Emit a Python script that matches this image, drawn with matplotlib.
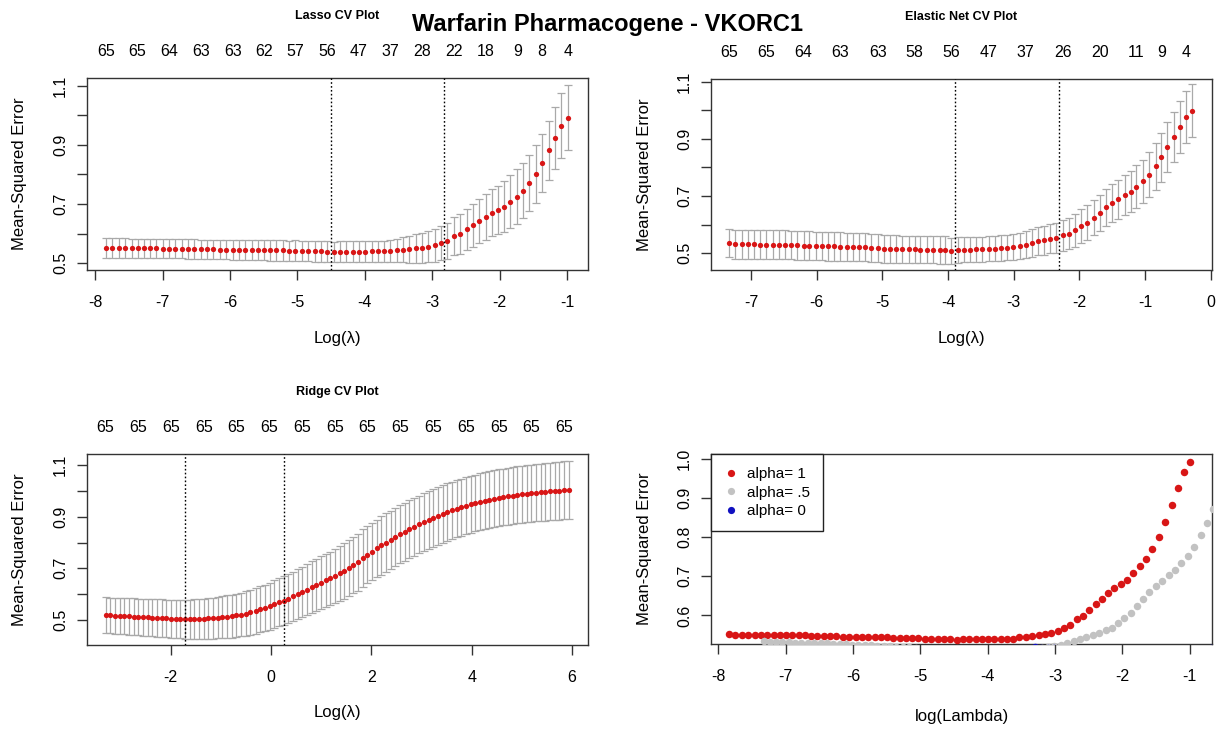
import matplotlib
matplotlib.use("Agg")
import matplotlib.pyplot as plt
from matplotlib.lines import Line2D

plt.rcParams["font.family"] = ["Liberation Sans", "DejaVu Sans"]
plt.rcParams["axes.unicode_minus"] = False

# ----------------------------------
# data (log lambda, cv mse, cv se)
# ----------------------------------

lasso_x = [-7.84, -7.75, -7.65, -7.56, -7.46, -7.37, -7.28, -7.18, -7.09, -7.00,
           -6.90, -6.81, -6.71, -6.62, -6.53, -6.43, -6.34, -6.25, -6.15, -6.06,
           -5.96, -5.87, -5.78, -5.68, -5.59, -5.50, -5.40, -5.31, -5.21, -5.12,
           -5.03, -4.93, -4.84, -4.74, -4.65, -4.56, -4.46, -4.37, -4.28, -4.18,
           -4.09, -3.99, -3.90, -3.81, -3.71, -3.62, -3.53, -3.43, -3.34, -3.24,
           -3.15, -3.06, -2.96, -2.87, -2.78, -2.68, -2.59, -2.49, -2.40, -2.31,
           -2.21, -2.12, -2.02, -1.93, -1.84, -1.74, -1.65, -1.56, -1.46, -1.37,
           -1.27, -1.18, -1.09, -0.99]
lasso_mse = [0.552, 0.551, 0.551, 0.551, 0.550, 0.550, 0.550, 0.550, 0.550, 0.549,
             0.549, 0.549, 0.549, 0.548, 0.548, 0.547, 0.547, 0.547, 0.546, 0.546,
             0.545, 0.545, 0.544, 0.544, 0.544, 0.544, 0.543, 0.543, 0.543, 0.542,
             0.542, 0.541, 0.541, 0.540, 0.540, 0.539, 0.538, 0.539, 0.539, 0.539,
             0.539, 0.539, 0.540, 0.540, 0.540, 0.541, 0.544, 0.546, 0.547, 0.550,
             0.552, 0.556, 0.561, 0.569, 0.576, 0.592, 0.598, 0.614, 0.628, 0.643,
             0.657, 0.671, 0.680, 0.691, 0.708, 0.725, 0.745, 0.770, 0.801, 0.838,
             0.881, 0.924, 0.965, 0.992]
lasso_se = [0.033, 0.033, 0.033, 0.033, 0.033, 0.033, 0.033, 0.033, 0.033, 0.033,
            0.033, 0.033, 0.033, 0.033, 0.033, 0.033, 0.033, 0.033, 0.033, 0.033,
            0.034, 0.034, 0.034, 0.034, 0.034, 0.034, 0.034, 0.034, 0.034, 0.034,
            0.035, 0.035, 0.035, 0.035, 0.035, 0.035, 0.035, 0.035, 0.035, 0.035,
            0.036, 0.036, 0.036, 0.036, 0.036, 0.036, 0.039, 0.042, 0.045, 0.048,
            0.050, 0.053, 0.056, 0.058, 0.061, 0.064, 0.067, 0.070, 0.073, 0.075,
            0.077, 0.080, 0.082, 0.086, 0.090, 0.092, 0.093, 0.095, 0.097, 0.099,
            0.101, 0.105, 0.109, 0.110]
lasso_lines = [-4.50, -2.82]
lasso_nz_x = [-7.84, -7.37, -6.90, -6.43, -5.96, -5.50, -5.03, -4.56,
              -4.09, -3.62, -3.15, -2.68, -2.21, -1.74, -1.37, -0.99]
lasso_nz = ["65", "65", "64", "63", "63", "62", "57", "56",
            "47", "37", "28", "22", "18", "9", "8", "4"]

enet_x = [-7.33, -7.24, -7.14, -7.05, -6.95, -6.86, -6.77, -6.67, -6.58, -6.48,
          -6.39, -6.30, -6.20, -6.11, -6.01, -5.92, -5.83, -5.73, -5.64, -5.54,
          -5.45, -5.36, -5.26, -5.17, -5.07, -4.98, -4.89, -4.79, -4.70, -4.60,
          -4.51, -4.42, -4.32, -4.23, -4.13, -4.04, -3.95, -3.85, -3.76, -3.66,
          -3.57, -3.48, -3.38, -3.29, -3.19, -3.10, -3.01, -2.91, -2.82, -2.72,
          -2.63, -2.54, -2.44, -2.35, -2.25, -2.16, -2.07, -1.97, -1.88, -1.78,
          -1.69, -1.60, -1.50, -1.41, -1.31, -1.22, -1.13, -1.03, -0.94, -0.84,
          -0.75, -0.66, -0.56, -0.47, -0.37, -0.28]
enet_mse = [0.535, 0.531, 0.531, 0.531, 0.531, 0.530, 0.530, 0.530, 0.530, 0.530,
            0.529, 0.527, 0.526, 0.526, 0.525, 0.525, 0.524, 0.524, 0.523, 0.522,
            0.521, 0.520, 0.520, 0.519, 0.518, 0.515, 0.514, 0.514, 0.513, 0.513,
            0.513, 0.512, 0.512, 0.512, 0.511, 0.511, 0.507, 0.511, 0.512, 0.512,
            0.513, 0.514, 0.515, 0.516, 0.518, 0.519, 0.522, 0.525, 0.530, 0.535,
            0.541, 0.545, 0.551, 0.554, 0.562, 0.568, 0.580, 0.594, 0.606, 0.624,
            0.641, 0.660, 0.676, 0.688, 0.704, 0.715, 0.733, 0.751, 0.774, 0.804,
            0.835, 0.871, 0.906, 0.941, 0.976, 0.998]
enet_se = [0.050, 0.050, 0.050, 0.050, 0.050, 0.050, 0.050, 0.050, 0.050, 0.050,
           0.050, 0.050, 0.050, 0.050, 0.050, 0.050, 0.050, 0.050, 0.050, 0.050,
           0.049, 0.049, 0.049, 0.049, 0.049, 0.049, 0.049, 0.049, 0.048, 0.048,
           0.048, 0.048, 0.048, 0.048, 0.048, 0.048, 0.046, 0.044, 0.044, 0.044,
           0.044, 0.044, 0.044, 0.044, 0.044, 0.044, 0.045, 0.046, 0.047, 0.048,
           0.049, 0.050, 0.051, 0.052, 0.053, 0.055, 0.057, 0.059, 0.061, 0.062,
           0.064, 0.065, 0.067, 0.068, 0.070, 0.072, 0.074, 0.076, 0.079, 0.082,
           0.085, 0.087, 0.089, 0.091, 0.092, 0.092]
enet_lines = [-3.89, -2.31]
enet_nz_x = [-7.33, -6.77, -6.20, -5.64, -5.07, -4.51, -3.95,
             -3.38, -2.82, -2.25, -1.69, -1.13, -0.75, -0.37]
enet_nz = ["65", "65", "64", "63", "63", "58", "56",
           "47", "37", "26", "20", "11", "9", "4"]

ridge_x = [-3.30, -3.21, -3.11, -3.02, -2.93, -2.83, -2.74, -2.65, -2.55, -2.46,
           -2.37, -2.27, -2.18, -2.09, -1.99, -1.90, -1.81, -1.71, -1.62, -1.53,
           -1.43, -1.34, -1.25, -1.15, -1.06, -0.97, -0.87, -0.78, -0.69, -0.59,
           -0.50, -0.41, -0.31, -0.22, -0.13, -0.03, 0.06, 0.15, 0.25, 0.34,
           0.43, 0.53, 0.62, 0.71, 0.81, 0.90, 0.99, 1.09, 1.18, 1.27,
           1.37, 1.46, 1.55, 1.64, 1.74, 1.83, 1.92, 2.02, 2.11, 2.20,
           2.30, 2.39, 2.48, 2.58, 2.67, 2.76, 2.86, 2.95, 3.04, 3.14,
           3.23, 3.32, 3.42, 3.51, 3.60, 3.70, 3.79, 3.88, 3.98, 4.07,
           4.16, 4.26, 4.35, 4.44, 4.54, 4.63, 4.72, 4.82, 4.91, 5.00,
           5.10, 5.19, 5.28, 5.38, 5.47, 5.56, 5.66, 5.75, 5.84, 5.94]
ridge_mse = [0.519, 0.518, 0.517, 0.516, 0.515, 0.514, 0.513, 0.512, 0.511, 0.510,
             0.509, 0.508, 0.507, 0.506, 0.505, 0.504, 0.504, 0.503, 0.503, 0.504,
             0.504, 0.505, 0.506, 0.507, 0.509, 0.511, 0.513, 0.515, 0.518, 0.521,
             0.525, 0.530, 0.535, 0.541, 0.547, 0.554, 0.561, 0.568, 0.575, 0.583,
             0.591, 0.600, 0.609, 0.618, 0.628, 0.637, 0.645, 0.653, 0.661, 0.671,
             0.681, 0.690, 0.700, 0.712, 0.723, 0.740, 0.753, 0.765, 0.777, 0.789,
             0.800, 0.811, 0.822, 0.832, 0.842, 0.852, 0.861, 0.870, 0.879, 0.888,
             0.896, 0.904, 0.911, 0.918, 0.925, 0.931, 0.937, 0.943, 0.948, 0.953,
             0.958, 0.962, 0.966, 0.970, 0.973, 0.976, 0.979, 0.982, 0.985, 0.987,
             0.989, 0.991, 0.993, 0.995, 0.997, 0.998, 1.000, 1.001, 1.003, 1.005]
ridge_se = [0.069, 0.069, 0.070, 0.070, 0.070, 0.071, 0.071, 0.071, 0.072, 0.072,
            0.072, 0.073, 0.073, 0.073, 0.074, 0.074, 0.075, 0.075, 0.076, 0.076,
            0.077, 0.078, 0.078, 0.079, 0.080, 0.081, 0.082, 0.083, 0.084, 0.085,
            0.086, 0.087, 0.088, 0.089, 0.090, 0.091, 0.092, 0.093, 0.094, 0.095,
            0.096, 0.097, 0.098, 0.099, 0.100, 0.101, 0.102, 0.103, 0.104, 0.105,
            0.106, 0.107, 0.108, 0.109, 0.110, 0.111, 0.111, 0.112, 0.112, 0.113,
            0.113, 0.113, 0.113, 0.113, 0.113, 0.113, 0.113, 0.112, 0.112, 0.112,
            0.112, 0.112, 0.111, 0.111, 0.111, 0.111, 0.110, 0.110, 0.110, 0.110,
            0.110, 0.110, 0.110, 0.110, 0.110, 0.110, 0.110, 0.111, 0.111, 0.111,
            0.111, 0.111, 0.111, 0.111, 0.112, 0.112, 0.112, 0.112, 0.112, 0.112]
ridge_lines = [-1.71, 0.26]
ridge_nz_x = [-3.30, -2.65, -1.99, -1.34, -0.69, -0.03, 0.62, 1.27,
              1.92, 2.58, 3.23, 3.88, 4.54, 5.19, 5.84]
ridge_nz = ["65"] * 15

mse_ticks = [0.5, 0.6, 0.7, 0.8, 0.9, 1.0, 1.1]
mse_labels = ["0.5", "", "0.7", "", "0.9", "", "1.1"]
cmp_ticks = [0.6, 0.7, 0.8, 0.9, 1.0]
cmp_labels = ["0.6", "0.7", "0.8", "0.9", "1.0"]
alpha_labels = ["alpha= 1", "alpha= .5", "alpha= 0"]

# ----------------------------------
# styles
# ----------------------------------

W, H = 1217, 729
RED = "#d81616"
BAR = "#a9a9a9"
GREY = "#c2c2c2"
BLUE = "#1010c0"
FS = 11.5
LFS = 12


def add_axes(fig, left, right, top, bottom):
    return fig.add_axes([left / W, 1 - bottom / H, (right - left) / W, (bottom - top) / H])


def style_axes(ax, h_px, w_px, xlabel):
    for s in ax.spines.values():
        s.set_color("#333333")
        s.set_linewidth(1.0)
    ax.tick_params(direction="out", length=7, width=1, color="#333333",
                   labelsize=FS, pad=11)
    ax.tick_params(axis="y", pad=6.5)
    plt.setp(ax.get_yticklabels(), rotation=90, va="center")
    ax.set_xlabel(xlabel, fontsize=LFS, va="center")
    ax.xaxis.set_label_coords(0.5, -68 / h_px)
    ax.set_ylabel("Mean-Squared Error", fontsize=LFS, va="center")
    ax.yaxis.set_label_coords(-67 / w_px, 0.5)


def cv_panel(ax, x, mse, se, lines, nz_x, nz, title, xlim, ylim, xticks, h_px):
    ax.errorbar(x, mse, yerr=se, fmt="none", ecolor=BAR, elinewidth=0.9,
                capsize=3.2, capthick=0.9, zorder=2)
    ax.plot(x, mse, "o", color=RED, ms=3.8, mec="none", zorder=3)
    for v in lines:
        ax.axvline(v, color="black", lw=1, linestyle=(0, (1.2, 1.6)), zorder=4)
    ax.set_xlim(xlim)
    ax.set_ylim(ylim)
    ax.set_xticks(xticks)
    ax.set_yticks(mse_ticks, labels=mse_labels)
    style_axes(ax, h_px, 501, "Log(λ)")

    top = ax.secondary_xaxis("top")
    top.set_xticks(nz_x, labels=nz)
    top.tick_params(length=0, pad=13.5, labelsize=FS)
    top.spines["top"].set_visible(False)

    ax.text(0.5, 1 + 62 / h_px, title, transform=ax.transAxes, ha="center",
            va="center", fontsize=9, fontweight="bold")


fig = plt.figure(figsize=(W / 100, H / 100), dpi=100)

ax1 = add_axes(fig, 87, 588, 78, 270)
cv_panel(ax1, lasso_x, lasso_mse, lasso_se, lasso_lines, lasso_nz_x, lasso_nz,
         "Lasso CV Plot", (-8.12, -0.69), (0.477, 1.126),
         [-8, -7, -6, -5, -4, -3, -2, -1], 192)

ax2 = add_axes(fig, 711, 1212, 79, 270)
cv_panel(ax2, enet_x, enet_mse, enet_se, enet_lines, enet_nz_x, enet_nz,
         "Elastic Net CV Plot", (-7.61, 0.02), (0.441, 1.109),
         [-7, -6, -5, -4, -3, -2, -1, 0], 191)

ax3 = add_axes(fig, 87, 588, 454, 645)
cv_panel(ax3, ridge_x, ridge_mse, ridge_se, ridge_lines, ridge_nz_x, ridge_nz,
         "Ridge CV Plot", (-3.67, 6.32), (0.403, 1.143),
         [-2, 0, 2, 4, 6], 191)

# ----------------------------------
# comparison panel
# ----------------------------------

ax4 = add_axes(fig, 711, 1212, 454, 644)
ax4.plot(lasso_x, lasso_mse, "o", color=RED, ms=5.4, mec="none", zorder=3)
ax4.plot(enet_x, enet_mse, "o", color=GREY, ms=5.4, mec="none", zorder=3)
ax4.plot(ridge_x, ridge_mse, "o", color=BLUE, ms=5.4, mec="none", zorder=3)
ax4.set_xlim(-8.11, -0.67)
ax4.set_ylim(0.527, 1.012)
ax4.set_xticks([-8, -7, -6, -5, -4, -3, -2, -1])
ax4.set_yticks(cmp_ticks, labels=cmp_labels)
style_axes(ax4, 190, 501, "log(Lambda)")
ax4.xaxis.set_label_coords(0.5, -73 / 190)

handles = [Line2D([], [], marker="o", ls="none", color=c, ms=5.2, mec="none")
           for c in (RED, GREY, BLUE)]
leg = ax4.legend(handles, alpha_labels, loc="upper left", fontsize=11,
                 frameon=True, fancybox=False, framealpha=1, edgecolor="#222222",
                 borderaxespad=0, borderpad=0.85, handlelength=0.9,
                 handletextpad=0.6, labelspacing=0.3)
leg.get_frame().set_linewidth(1.0)

fig.text(608 / W, 1 - 25 / H, "Warfarin Pharmacogene - VKORC1", ha="center",
         va="center", fontsize=17, fontweight="bold")

fig.savefig("out.png", dpi=100)
